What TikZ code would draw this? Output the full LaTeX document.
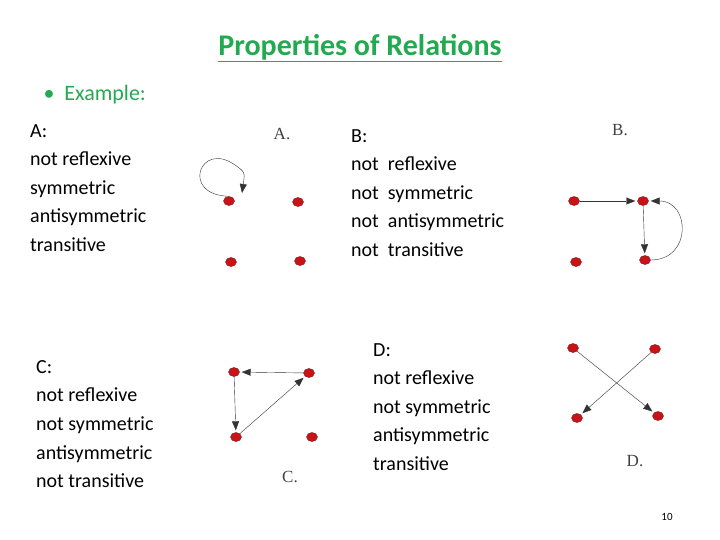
\documentclass[tikz,border=0pt]{standalone}
\usepackage{fontspec}
\setmainfont{Carlito}
\newfontfamily\capfont{Liberation Serif}
\usetikzlibrary{arrows.meta,shapes.geometric}
\definecolor{titlegreen}{RGB}{34,170,80}
\definecolor{vred}{RGB}{200,20,25}

\begin{document}
\begin{tikzpicture}[
    x=1pt, y=-1pt,
    vert/.style={ellipse, draw=vred!60!black, fill=vred, inner sep=0pt, minimum width=11pt, minimum height=9pt},
    props/.style={anchor=west, font=\fontsize{20}{28.6}\selectfont, align=left, inner sep=0pt},
    gcap/.style={font=\capfont\fontsize{17}{17}\selectfont, text=black!75},
    edge/.style={-{Triangle[length=9pt,width=7pt]}, draw=black!80, thin, shorten >=2pt}
]
\useasboundingbox (0,0) rectangle (720,539);

% Title
\node[font=\fontsize{30}{30}\selectfont\bfseries, text=titlegreen] (title) at (360,48) {\underline{Properties of Relations}};
\node[anchor=west, font=\fontsize{22}{22}\selectfont, text=titlegreen] (ex) at (40,95) {\textbullet\ \ Example:};

% Property lists
\node[props] (ta) at (30,188) {A:\\not reflexive\\symmetric\\antisymmetric\\transitive};
\node[props] (tb) at (351,193) {B:\\not\ \ reflexive\\not\ \ symmetric\\not\ \ antisymmetric\\not\ \ transitive};
\node[props] (tc) at (36,424) {C:\\not reflexive\\not symmetric\\antisymmetric\\not transitive};
\node[props] (td) at (373,407) {D:\\not reflexive\\not symmetric\\antisymmetric\\transitive};

% Captions
\node[gcap] (ca) at (282,134) {A.};
\node[gcap] (cb) at (620,130) {B.};
\node[gcap] (cc) at (290,477) {C.};
\node[gcap] (cd) at (635,461) {D.};

% Graph A
\node[vert] (a1) at (229,201) {};
\node[vert] (a2) at (298,202) {};
\node[vert] (a3) at (231,262) {};
\node[vert] (a4) at (300,261) {};
\draw[edge, shorten >=0pt] (a1.north) .. controls (180,195) and (200,140) .. (235,165) .. controls (245,172) .. (242,193);

% Graph B
\node[vert] (b1) at (574,201) {};
\node[vert] (b2) at (643,201) {};
\node[vert] (b3) at (576,262) {};
\node[vert] (b4) at (645,260) {};
\draw[edge] (b1) -- (b2);
\draw[edge] (b2) -- (b4);
\draw[edge] (b4) to[out=0, in=0, looseness=1.8] (b2);

% Graph C
\node[vert] (c1) at (234,372) {};
\node[vert] (c2) at (309,373) {};
\node[vert] (c3) at (236,437) {};
\node[vert] (c4) at (312,437) {};
\draw[edge] (c2) -- (c1);
\draw[edge] (c1) -- (c3);
\draw[edge] (c3) -- (c2);

% Graph D
\node[vert] (d1) at (573,348) {};
\node[vert] (d2) at (655,349) {};
\node[vert] (d3) at (577,418) {};
\node[vert] (d4) at (658,416) {};
\draw[edge] (d1) -- (d4);
\draw[edge] (d2) -- (d3);

% Page number
\node[font=\fontsize{11}{11}\selectfont] (pg) at (667,517) {10};
\end{tikzpicture}
\end{document}
